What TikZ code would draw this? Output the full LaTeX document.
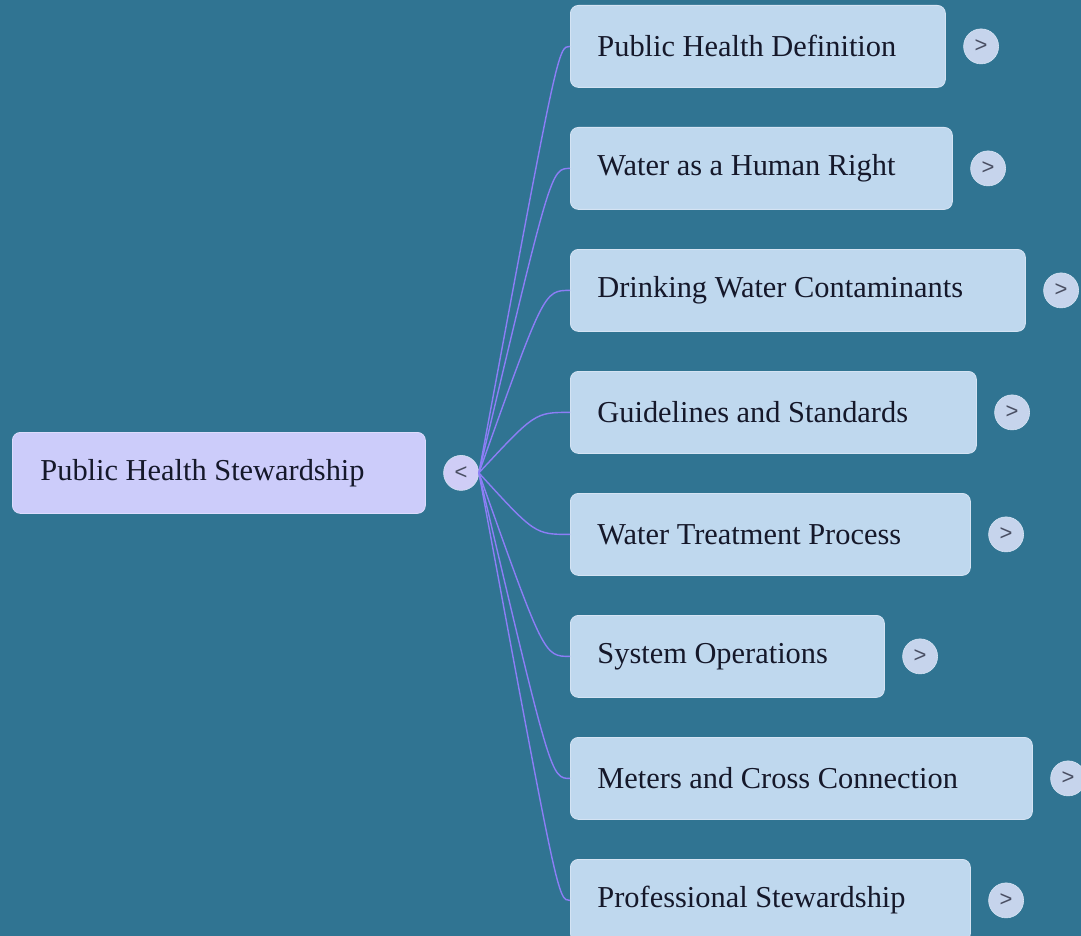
\documentclass[tikz,border=0pt]{standalone}
\usepackage{fontspec}
\setmainfont{Liberation Serif}
\newfontfamily\btnfont{Liberation Sans}
\usepackage{tikz}
\usetikzlibrary{positioning}
\definecolor{bgteal}{HTML}{307492}
\definecolor{topicfill}{HTML}{BFD8EE}
\definecolor{topicedge}{HTML}{D4E3F3}
\definecolor{rootfill}{HTML}{CCCCFA}
\definecolor{rootedge}{HTML}{DCDCFC}
\definecolor{btnfill}{HTML}{C6D4EC}
\definecolor{togglefill}{HTML}{CFCDF6}
\definecolor{btnink}{HTML}{4A4F63}
\definecolor{inkdark}{HTML}{15182A}
\definecolor{linkviolet}{HTML}{8C7EF6}

\begin{document}
\begin{tikzpicture}[x=1pt, y=-1pt,
    topic/.style={draw=topicedge, line width=0.8pt, fill=topicfill, rounded corners=8pt,
      anchor=north west, minimum height=82pt, inner xsep=27pt, inner ysep=0pt,
      align=flush left, text=inkdark, font=\fontsize{30.4}{36}\selectfont},
    btn/.style={circle, draw=topicedge, line width=0.6pt, fill=btnfill, minimum size=35pt,
      inner sep=0pt, text=btnink, font=\btnfont\fontsize{22}{22}\selectfont},
    link/.style={draw=linkviolet, line width=1.4pt}]
        \useasboundingbox (0,0) rectangle (1081,936);
        \fill[bgteal] (0,0) rectangle (1081,936);
        \node[topic, fill=rootfill, draw=rootedge, text width=357pt, inner xsep=28pt, minimum height=81pt] (root) at (12,432) {Public Health Stewardship};
        \node[btn, fill=togglefill, right=17.5pt of root] (toggle) {<};
        \node[topic, text width=321pt] (pubdef) at (570,5) {Public Health Definition};
        \node[topic, text width=328pt] (rights) at (570,127) {Water as a Human Right};
        \node[topic, text width=401pt] (contam) at (570,249) {Drinking Water Contaminants};
        \node[topic, text width=352pt] (guide) at (570,371) {Guidelines and Standards};
        \node[topic, text width=346pt] (treat) at (570,493) {Water Treatment Process};
        \node[topic, text width=260pt] (sysops) at (570,615) {System Operations};
        \node[topic, text width=408pt] (meters) at (570,737) {Meters and Cross Connection};
        \node[topic, text width=346pt] (profstew) at (570,859) {Professional Stewardship};
        \node[btn, right=17.5pt of pubdef] (pubdefbtn) {>};
        \node[btn, right=17.5pt of rights] (rightsbtn) {>};
        \node[btn, right=17.5pt of contam] (contambtn) {>};
        \node[btn, right=17.5pt of guide] (guidebtn) {>};
        \node[btn, right=17.5pt of treat] (treatbtn) {>};
        \node[btn, right=17.5pt of sysops] (sysopsbtn) {>};
        \node[btn, right=17.5pt of meters] (metersbtn) {>};
        \node[btn, right=17.5pt of profstew] (profstewbtn) {>};
        \coordinate (kinkfar) at (558,472.5);
        \coordinate (kinkmid) at (551,472.5);
        \coordinate (kinkclose) at (544,472.5);
        \coordinate (kinknear) at (535,472.5);
        \draw[link] (toggle.east) .. controls (kinkfar |- pubdef.west) .. (pubdef.west);
        \draw[link] (toggle.east) .. controls (kinkmid |- rights.west) .. (rights.west);
        \draw[link] (toggle.east) .. controls (kinkclose |- contam.west) .. (contam.west);
        \draw[link] (toggle.east) .. controls (kinknear |- guide.west) .. (guide.west);
        \draw[link] (toggle.east) .. controls (kinknear |- treat.west) .. (treat.west);
        \draw[link] (toggle.east) .. controls (kinkclose |- sysops.west) .. (sysops.west);
        \draw[link] (toggle.east) .. controls (kinkmid |- meters.west) .. (meters.west);
        \draw[link] (toggle.east) .. controls (kinkfar |- profstew.west) .. (profstew.west);
\end{tikzpicture}
\end{document}
